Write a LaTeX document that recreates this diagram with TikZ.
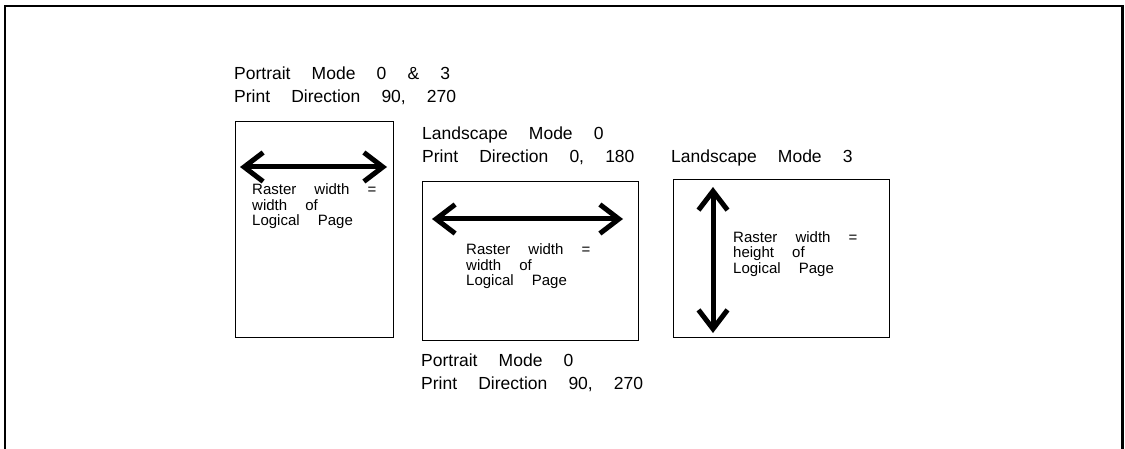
\documentclass[tikz,border=0pt]{standalone}
\usepackage{fontspec}
\setmainfont{Liberation Sans}
\newfontfamily\widefont[WordSpace=4.35]{Liberation Sans}
\usepackage{tikz}
\usetikzlibrary{arrows.meta, positioning, calc}

\tikzset{
  pagebox/.style={draw=black, line width=1.4pt, minimum width=#1, anchor=north west, inner sep=0pt},
  rasterarrow/.style={{Straight Barb[length=19pt, width=29pt]}-{Straight Barb[length=19pt, width=29pt]}, line width=5pt},
  modelabel/.style={anchor=base west, align=left, inner sep=0pt, font=\widefont\fontsize{17.5}{23}\selectfont},
  rasternote/.style={anchor=base west, align=left, inner sep=0pt, font=\widefont\fontsize{15}{15.5}\selectfont}
}

\begin{document}
\begin{tikzpicture}[x=1pt, y=-1pt]
  \useasboundingbox (0,0) rectangle (1125,449);

  % --- Outer frame (open at the bottom) ---
  \draw[line width=2.3pt] (5,449) -- (5,6) -- (1122.5,6) -- (1122.5,449);

  % --- Portrait page ---
  % (base of a two-line node = baseline of its last line)
  \node[pagebox=158, minimum height=216] (pbox) at (235,121) {};
  \node[modelabel] (plabel) at (234,103) {Portrait Mode 0 \& 3\\Print Direction 90, 270};
  \coordinate (pleft) at (240,167);
  \coordinate (pright) at (387,167);
  \draw[rasterarrow] (pleft) -- (pright);
  \node[rasternote] (pnote) at (252,226) {Raster width =\\width of\\Logical Page};

  % --- Landscape page, mode 0 ---
  \node[pagebox=216, minimum height=159] (lbox) at (422,181) {};
  \node[modelabel] (llabel) at (422,163) {Landscape Mode 0\\Print Direction 0, 180};
  \coordinate (lleft) at (432,219);
  \coordinate (lright) at (623,219);
  \draw[rasterarrow] (lleft) -- (lright);
  \node[rasternote] (lnote) at (466,286) {Raster width =\\width of\\Logical Page};
  \node[modelabel] (blabel) at (421,389) {Portrait Mode 0\\Print Direction 90, 270};

  % --- Landscape page, mode 3 ---
  \node[pagebox=216, minimum height=158] (rbox) at (673,179) {};
  \node[modelabel] (rlabel) at (671,163) {Landscape Mode 3};
  \coordinate (rtop) at (713,187);
  \coordinate (rbottom) at (713,333);
  \draw[rasterarrow] (rtop) -- (rbottom);
  \node[rasternote] (rnote) at (733,273) {Raster width =\\height of\\Logical Page};
\end{tikzpicture}
\end{document}
